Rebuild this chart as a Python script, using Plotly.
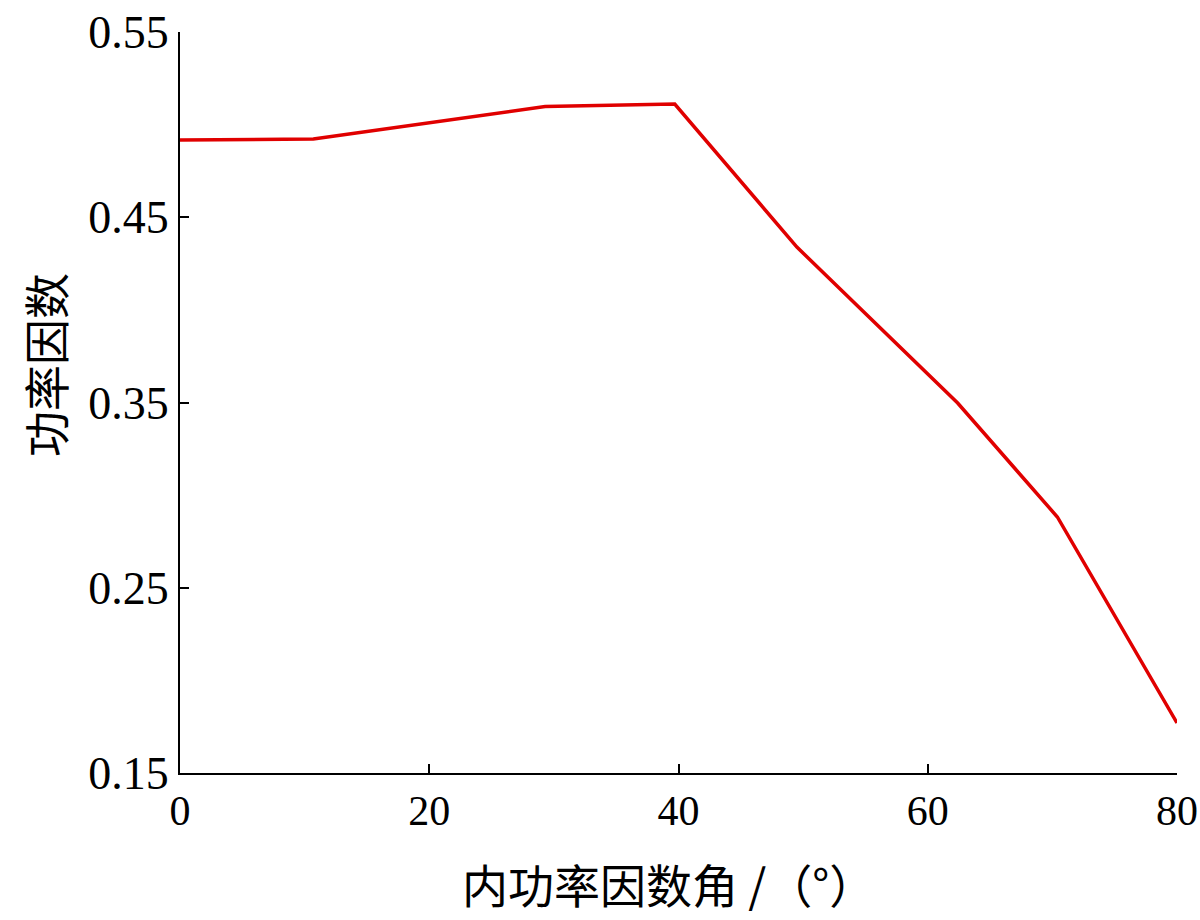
import plotly.graph_objects as go

# 内功率因数角 (deg) vs 功率因数
angle = [0, 10.7, 29.3, 39.7, 49.5, 62.4, 70.4, 80]
power_factor = [0.4917, 0.4922, 0.5098, 0.5111, 0.4339, 0.3497, 0.2882, 0.1770]

x_ticks = [0, 20, 40, 60, 80]
y_ticks = [0.15, 0.25, 0.35, 0.45, 0.55]

SERIF = "Liberation Serif, Times New Roman, serif"
CJK = "Noto Sans CJK SC"

fig = go.Figure()
fig.add_trace(go.Scatter(
    x=angle,
    y=power_factor,
    mode="lines",
    line=dict(color="#e00000", width=3.5),
    showlegend=False,
))

axis_style = dict(
    showline=True,
    linecolor="black",
    linewidth=2,
    ticks="inside",
    ticklen=9,
    tickwidth=2,
    tickcolor="black",
    showgrid=False,
    zeroline=False,
    automargin=False,
    ticklabeloverflow="allow",
)

fig.update_xaxes(
    range=[0, 80], tickvals=x_ticks, ticktext=[str(v) for v in x_ticks],
    tickfont=dict(family=SERIF, size=42, color="black"), **axis_style,
)
fig.update_yaxes(
    range=[0.15, 0.55], tickvals=y_ticks, ticktext=[f"{v:.2f}" for v in y_ticks],
    tickfont=dict(family=SERIF, size=46, color="black"), **axis_style,
)

fig.add_annotation(
    text="功率因数", xref="paper", yref="paper", x=-0.137, y=0.551,
    textangle=-90, showarrow=False, xanchor="center", yanchor="middle",
    font=dict(family=CJK, size=46, color="black"),
)
fig.add_annotation(
    text="内功率因数角 /（°）", xref="paper", yref="paper", x=0.49, y=-0.148,
    showarrow=False, xanchor="center", yanchor="middle",
    font=dict(family=CJK, size=46, color="black"),
)

fig.update_layout(
    width=1200,
    height=920,
    margin=dict(l=180, r=23, t=32, b=147),
    plot_bgcolor="white",
    paper_bgcolor="white",
)

# drop the default body margin / scrollbar so the figure fills the window
fig.write_html(
    "out.html",
    config={"displayModeBar": False},
    post_script="document.body.style.margin='0';document.body.style.overflow='hidden';"
                "document.documentElement.style.overflow='hidden';",
)
